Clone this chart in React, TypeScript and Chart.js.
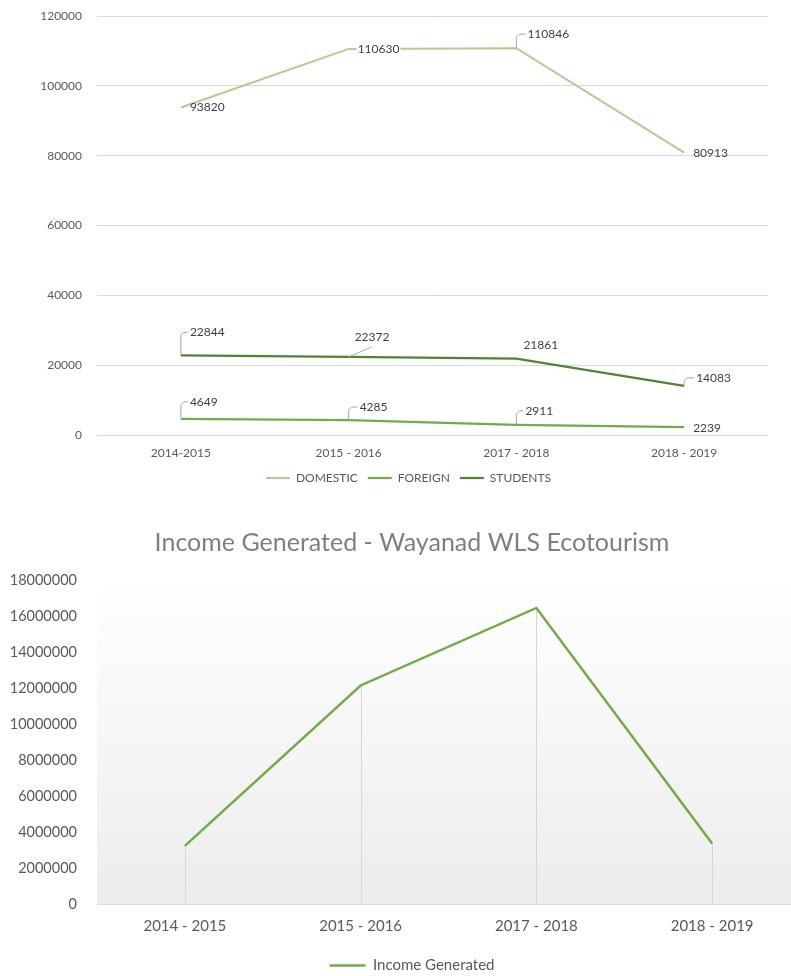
import React, { useEffect, useRef } from 'react';
import { Chart, registerables } from 'chart.js';

Chart.register(...registerables);

// ---------- data ----------
const VISITOR_YEARS = ['2014-2015', '2015 - 2016', '2017 - 2018', '2018 - 2019'];
const DOMESTIC = [93820, 110630, 110846, 80913];
const FOREIGN = [4649, 4285, 2911, 2239];
const STUDENTS = [22844, 22372, 21861, 14083];
const VISITOR_SERIES_NAMES = ['DOMESTIC', 'FOREIGN', 'STUDENTS'];

const INCOME_YEARS = ['2014 - 2015', '2015 - 2016', '2017 - 2018', '2018 - 2019'];
const INCOME = [3250000, 12150000, 16450000, 3380000];
const INCOME_SERIES_NAME = 'Income Generated';
const INCOME_TITLE = 'Income Generated - Wayanad WLS Ecotourism';

const FONT = 'Lato, "Noto Sans", sans-serif';

// data label plugin (Excel-like labels with leader lines)
const pointLabelsPlugin = {
  id: 'pointLabels',
  afterDatasetsDraw(chart: any, _args: any, opts: any) {
    if (!opts || !opts.layouts) return;
    const ctx = chart.ctx;
    ctx.save();
    ctx.font = `12px ${FONT}`;
    ctx.textBaseline = 'middle';
    ctx.textAlign = 'left';
    chart.data.datasets.forEach((ds: any, di: number) => {
      const meta = chart.getDatasetMeta(di);
      const layout = opts.layouts[di] || [];
      meta.data.forEach((pt: any, i: number) => {
        const l = layout[i] || { dx: 8, dy: 0 };
        const text = String(ds.data[i]);
        const px = pt.x;
        const py = pt.y;
        const lx = px + l.dx;
        const ly = py + l.dy;
        if (l.leader) {
          ctx.beginPath();
          ctx.strokeStyle = '#a6a6a6';
          ctx.lineWidth = 1;
          if (l.leader === 'elbow') {
            ctx.moveTo(px, py);
            ctx.lineTo(px, ly + 3);
            ctx.lineTo(px + 3, ly);
            ctx.lineTo(lx - 2, ly);
          } else {
            ctx.moveTo(px, py);
            ctx.lineTo(px + 23, py - 10);
          }
          ctx.stroke();
        }
        if (l.bg) {
          const w = ctx.measureText(text).width;
          ctx.fillStyle = '#ffffff';
          ctx.fillRect(lx - 1, ly - 7, w + 2, 14);
        }
        ctx.fillStyle = '#404040';
        ctx.fillText(text, lx, ly);
      });
    });
    ctx.restore();
  },
};

const plotGradientPlugin = {
  id: 'plotGradient',
  beforeDraw(chart: any) {
    const { ctx, chartArea } = chart;
    if (!chartArea) return;
    const g = ctx.createLinearGradient(0, chartArea.top, 0, chartArea.bottom);
    g.addColorStop(0, '#ffffff');
    g.addColorStop(1, '#ececec');
    ctx.save();
    ctx.fillStyle = g;
    ctx.fillRect(chartArea.left, chartArea.top, chartArea.right - chartArea.left, chartArea.bottom - chartArea.top);
    ctx.restore();
  },
};

const dropLinesPlugin = {
  id: 'dropLines',
  beforeDatasetsDraw(chart: any) {
    const { ctx, chartArea } = chart;
    const meta = chart.getDatasetMeta(0);
    ctx.save();
    ctx.strokeStyle = '#d6d6d6';
    ctx.lineWidth = 1;
    meta.data.forEach((pt: any) => {
      const x = Math.round(pt.x) + 0.5;
      ctx.beginPath();
      ctx.moveTo(x, pt.y);
      ctx.lineTo(x, chartArea.bottom);
      ctx.stroke();
    });
    ctx.restore();
  },
};

// an empty right-hand box used only to reserve horizontal space
const spacerAxis = (w: number) => ({
  type: 'linear',
  position: 'right',
  display: true,
  grid: { display: false, drawTicks: false },
  border: { display: false },
  ticks: { display: false },
  afterFit: (s: any) => { s.width = w; },
});

function VisitorsChart() {
  const ref = useRef<HTMLCanvasElement | null>(null);
  useEffect(() => {
    if (!ref.current) return;
    const colors = ['#a9d08e', '#70ad47', '#548235'];
    const series = [DOMESTIC, FOREIGN, STUDENTS];
    const chart = new Chart(ref.current, {
      type: 'line',
      data: {
        labels: VISITOR_YEARS,
        datasets: series.map((d, i) => ({
          label: VISITOR_SERIES_NAMES[i],
          data: d,
          borderColor: colors[i],
          backgroundColor: colors[i],
          borderWidth: i === 0 ? 2 : 2.25,
          pointRadius: 0,
          tension: 0,
          fill: false,
          yAxisID: 'y',
        })),
      },
      options: {
        responsive: false,
        animation: false,
        layout: { padding: { left: 0, right: 0, top: 0, bottom: 0 } },
        scales: {
          x: {
            offset: true,
            grid: { display: false, drawTicks: false },
            border: { display: false },
            ticks: { color: '#595959', font: { family: FONT, size: 12 }, padding: 11, maxRotation: 0, autoSkip: false },
            afterFit: (s: any) => { s.height = 27; },
          },
          y: {
            min: 0,
            max: 120000,
            grid: { color: '#d9d9d9', drawTicks: false },
            border: { display: false },
            ticks: {
              stepSize: 20000,
              color: '#595959',
              font: { family: FONT, size: 12 },
              padding: 15,
              callback: (v: any) => String(v),
            },
            afterFit: (s: any) => { s.width = 97; },
          },
          spacer: spacerAxis(49),
        } as any,
        plugins: {
          legend: {
            position: 'bottom',
            labels: {
              usePointStyle: true,
              pointStyle: 'line',
              pointStyleWidth: 24,
              color: '#595959',
              font: { family: FONT, size: 12 },
              padding: 10,
            },
          },
          tooltip: { enabled: false },
          pointLabels: {
            layouts: [
              [{ dx: 9, dy: 0 }, { dx: 9, dy: 0, bg: true }, { dx: 11, dy: -14, leader: 'elbow' }, { dx: 9, dy: 1 }],
              [{ dx: 9, dy: -17, leader: 'elbow' }, { dx: 11, dy: -13, leader: 'elbow' }, { dx: 9, dy: -14, leader: 'elbow' }, { dx: 9, dy: 1 }],
              [{ dx: 9, dy: -23, leader: 'elbow' }, { dx: 6, dy: -20, leader: 'slant' }, { dx: 7, dy: -14 }, { dx: 12, dy: -8, leader: 'elbow' }],
            ],
          },
        } as any,
      },
      plugins: [pointLabelsPlugin],
    });
    return () => chart.destroy();
  }, []);
  return <canvas ref={ref} width={817} height={500} style={{ position: 'absolute', left: 0, top: -6, display: 'block' }} />;
}

function IncomeChart() {
  const ref = useRef<HTMLCanvasElement | null>(null);
  useEffect(() => {
    if (!ref.current) return;
    const chart = new Chart(ref.current, {
      type: 'line',
      data: {
        labels: INCOME_YEARS,
        datasets: [
          {
            label: INCOME_SERIES_NAME,
            data: INCOME,
            borderColor: '#70ad47',
            backgroundColor: '#70ad47',
            borderWidth: 2.5,
            pointRadius: 0,
            tension: 0,
            fill: false,
            yAxisID: 'y',
          },
        ],
      },
      options: {
        responsive: false,
        animation: false,
        layout: { padding: { left: 0, right: 0, top: 0, bottom: 0 } },
        scales: {
          x: {
            offset: true,
            grid: { display: false, drawTicks: false },
            border: { display: true, color: '#d9d9d9', width: 1 },
            ticks: { color: '#595959', font: { family: FONT, size: 15 }, padding: 13, maxRotation: 0, autoSkip: false },
            afterFit: (s: any) => { s.height = 43.5; },
          },
          y: {
            min: 0,
            max: 18000000,
            grid: { display: false, drawTicks: false },
            border: { display: false },
            ticks: {
              stepSize: 2000000,
              color: '#595959',
              font: { family: FONT, size: 14.5 },
              padding: 20,
              callback: (v: any) => String(v),
            },
            afterFit: (s: any) => { s.width = 97; },
          },
          spacer: spacerAxis(24),
        } as any,
        plugins: {
          title: {
            display: true,
            text: INCOME_TITLE,
            color: '#7f7f7f',
            font: { family: FONT, size: 25, weight: 'normal' },
            padding: { top: 34, bottom: 22 },
          },
          legend: {
            position: 'bottom',
            labels: {
              usePointStyle: true,
              pointStyle: 'line',
              pointStyleWidth: 36,
              color: '#595959',
              font: { family: FONT, size: 15 },
              padding: 10,
            },
          },
          tooltip: { enabled: false },
        } as any,
      },
      plugins: [plotGradientPlugin, dropLinesPlugin],
    });
    return () => chart.destroy();
  }, []);
  return <canvas ref={ref} width={824} height={489} style={{ position: 'absolute', left: 0, top: 494, display: 'block' }} />;
}

export default function App() {
  return (
    <div style={{ position: 'absolute', left: 0, top: 0, width: 791, height: 976, overflow: 'hidden', background: '#ffffff' }}>
      <VisitorsChart />
      <IncomeChart />
    </div>
  );
}
